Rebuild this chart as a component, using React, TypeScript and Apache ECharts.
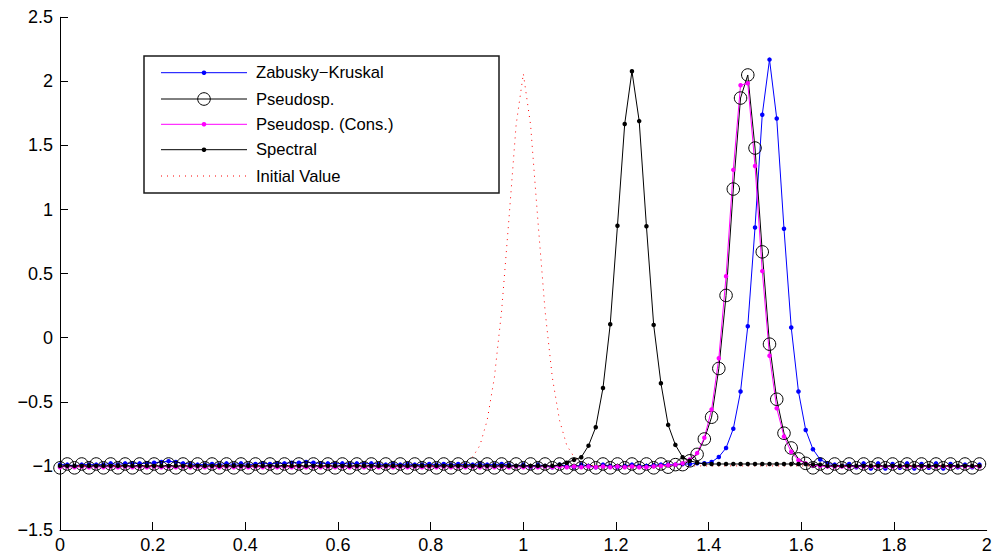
import React, { useEffect, useRef } from "react";
import * as echarts from "echarts";

// grid spacing of the 128 sample points (x = 0 .. 127/64)
const STEP = 1 / 64;

const zabuskyKruskal = [
  -0.99, -0.99, -1.0, -0.99, -0.99, -0.99, -0.99, -0.98, -0.99, -0.98, -0.98, -0.98, -0.98, -0.975, -0.97, -0.963,
  -0.97, -0.98, -0.985, -0.99, -0.99, -0.985, -0.99, -0.98, -0.99, -0.98, -0.99, -0.985, -0.98, -0.985, -0.98, -0.98,
  -0.975, -0.975, -0.97, -0.975, -0.98, -0.98, -0.985, -0.98, -0.985, -0.98, -0.985, -0.98, -0.985, -0.99, -0.985, -0.99,
  -0.985, -0.99, -0.99, -0.985, -0.99, -0.985, -0.99, -0.985, -0.99, -0.99, -0.985, -0.99, -0.99, -0.985, -0.99, -1.0,
  -0.99, -1.01, -0.99, -1.0, -1.01, -0.99, -1.0, -1.01, -0.99, -1.0, -1.01, -0.99, -1.0, -1.01, -1.0, -0.99,
  -1.0, -1.0, -0.995, -0.99, -0.99, -0.99, -0.985, -0.985, -0.98, -0.979, -0.97, -0.93, -0.86, -0.71, -0.42, 0.09,
  0.86, 1.74, 2.17, 1.71, 0.85, 0.08, -0.42, -0.72, -0.87, -0.95, -0.98, -0.99, -1.0, -0.985, -1.01, -0.98,
  -1.02, -0.98, -1.02, -0.985, -1.015, -0.98, -1.02, -0.985, -1.015, -0.98, -1.02, -0.985, -1.01, -0.99, -1.01, -0.99,
];

const pseudospectral = [
  -1.015, -0.985, -1.015, -0.985, -1.015, -0.985, -1.015, -0.985, -1.015, -0.985, -1.015, -0.985, -1.015, -0.985, -1.015, -0.985,
  -1.015, -0.985, -1.015, -0.985, -1.015, -0.985, -1.015, -0.985, -1.015, -0.985, -1.015, -0.985, -1.015, -0.985, -1.015, -0.985,
  -1.015, -0.985, -1.015, -0.985, -1.015, -0.985, -1.015, -0.985, -1.015, -0.985, -1.015, -0.985, -1.015, -0.985, -1.015, -0.985,
  -1.015, -0.985, -1.015, -0.985, -1.015, -0.985, -1.015, -0.985, -1.015, -0.985, -1.015, -0.985, -1.015, -0.985, -1.015, -0.985,
  -1.015, -0.985, -1.015, -0.985, -1.015, -0.985, -1.015, -0.985, -1.015, -0.985, -1.015, -0.985, -1.015, -0.985, -1.015, -0.985,
  -1.015, -0.985, -1.015, -0.985, -1.01, -0.99, -0.99, -0.96, -0.91, -0.79, -0.62, -0.24, 0.33, 1.16, 1.87, 2.05,
  1.48, 0.67, -0.05, -0.48, -0.745, -0.86, -0.945, -0.98, -1.015, -0.985, -1.015, -0.985, -1.015, -0.985, -1.015, -0.985,
  -1.015, -0.985, -1.015, -0.985, -1.015, -0.985, -1.015, -0.985, -1.015, -0.985, -1.015, -0.985, -1.015, -0.985, -1.015, -0.985,
];

const pseudospCons = [
  -1.01, -1.005, -1.01, -1.005, -1.01, -1.005, -1.01, -1.005, -1.01, -1.005, -1.01, -1.005, -1.01, -1.005, -1.01, -1.005,
  -1.01, -1.005, -1.01, -1.005, -1.01, -1.005, -1.01, -1.005, -1.01, -1.005, -1.01, -1.005, -1.01, -1.005, -1.01, -1.005,
  -1.01, -1.005, -1.01, -1.005, -1.01, -1.005, -1.01, -1.005, -1.01, -1.005, -1.01, -1.005, -1.01, -1.005, -1.01, -1.005,
  -1.01, -1.005, -1.01, -1.005, -1.01, -1.005, -1.01, -1.005, -1.01, -1.005, -1.01, -1.005, -1.01, -1.005, -1.01, -1.005,
  -1.01, -1.005, -1.01, -1.005, -1.01, -1.005, -1.01, -1.005, -1.01, -1.005, -1.01, -1.005, -1.01, -1.005, -1.01, -1.005,
  -1.01, -1.01, -1.005, -1.0, -0.995, -0.99, -0.98, -0.95, -0.9, -0.78, -0.56, -0.16, 0.48, 1.31, 1.97, 1.985,
  1.34, 0.52, -0.14, -0.55, -0.77, -0.89, -0.955, -0.98, -0.995, -1.0, -1.005, -1.005, -1.005, -1.005, -1.005, -1.005,
  -1.005, -1.005, -1.005, -1.005, -1.005, -1.005, -1.005, -1.005, -1.005, -1.005, -1.005, -1.005, -1.005, -1.005, -1.005, -1.005,
];

const spectral = [
  -1.0, -1.0, -1.0, -1.0, -1.0, -1.0, -1.0, -1.0, -1.0, -1.0, -1.0, -1.0, -1.0, -1.0, -1.0, -1.0,
  -1.0, -1.0, -1.0, -1.0, -1.0, -1.0, -1.0, -1.0, -1.0, -1.0, -1.0, -1.0, -1.0, -1.0, -1.0, -1.0,
  -1.0, -1.0, -1.0, -1.0, -1.0, -1.0, -1.0, -1.0, -1.0, -1.0, -1.0, -1.0, -1.0, -1.0, -1.0, -1.0,
  -1.0, -1.0, -1.0, -1.0, -1.0, -1.0, -1.0, -1.0, -1.0, -1.0, -1.0, -1.0, -1.0, -1.0, -1.0, -1.0,
  -1.0, -1.0, -1.0, -1.0, -1.0, -0.99, -0.975, -0.953, -0.932, -0.842, -0.698, -0.392, 0.105, 0.874, 1.668, 2.079,
  1.69, 0.87, 0.1, -0.355, -0.68, -0.836, -0.932, -0.96, -0.975, -0.985, -0.985, -0.985, -0.985, -0.985, -0.985, -0.985,
  -0.985, -0.985, -0.985, -0.985, -0.985, -0.985, -0.985, -0.985, -0.99, -0.99, -1.0, -1.0, -1.0, -1.0, -1.0, -1.0,
  -1.0, -1.0, -1.0, -1.0, -1.0, -1.0, -1.0, -1.0, -1.0, -1.0, -1.0, -1.0, -1.0, -1.0, -1.0, -1.0,
];

const initialValue = [
  -1.0, -1.0, -1.0, -1.0, -1.0, -1.0, -1.0, -1.0, -1.0, -1.0, -1.0, -1.0, -1.0, -1.0, -1.0, -1.0,
  -1.0, -1.0, -1.0, -1.0, -1.0, -1.0, -1.0, -1.0, -1.0, -1.0, -1.0, -1.0, -1.0, -1.0, -1.0, -1.0,
  -1.0, -1.0, -1.0, -1.0, -1.0, -1.0, -1.0, -1.0, -1.0, -1.0, -1.0, -1.0, -1.0, -1.0, -1.0, -1.0,
  -1.0, -1.0, -1.0, -1.0, -1.0, -1.0, -1.0, -0.99, -0.97, -0.93, -0.84, -0.645, -0.31, 0.21, 0.92, 1.66,
  2.06, 1.66, 0.92, 0.21, -0.31, -0.645, -0.84, -0.93, -0.97, -0.99, -1.0, -1.0, -1.0, -1.0, -1.0, -1.0,
  -1.0, -1.0, -1.0, -1.0, -1.0, -1.0, -1.0, -1.0, -1.0, -1.0, -1.0, -1.0, -1.0, -1.0, -1.0, -1.0,
  -1.0, -1.0, -1.0, -1.0, -1.0, -1.0, -1.0, -1.0, -1.0, -1.0, -1.0, -1.0, -1.0, -1.0, -1.0, -1.0,
  -1.0, -1.0, -1.0, -1.0, -1.0, -1.0, -1.0, -1.0, -1.0, -1.0, -1.0, -1.0, -1.0, -1.0, -1.0, -1.0,
];

const seriesNames = ["Zabusky\u2212Kruskal", "Pseudosp.", "Pseudosp. (Cons.)", "Spectral", "Initial Value"];
const seriesColors = ["#0000ff", "#000000", "#ff00ff", "#000000", "#ff0000"];

const X_MIN = 0;
const X_MAX = 2;
const X_INTERVAL = 0.2;
const Y_MIN = -1.5;
const Y_MAX = 2.5;
const Y_INTERVAL = 0.5;

const FONT = "'Liberation Sans', Arial, Helvetica, sans-serif";
const TICK_FONT_SIZE = 18;
const LEGEND_FONT_SIZE = 16.6;
const X_LABEL_MARGIN = 6;

const xLabel = (v: number) => String(Math.round(v * 10) / 10);
const toPairs = (ys: number[]) => ys.map((y, i) => [i * STEP, y]);

export default function App() {
  const ref = useRef<HTMLDivElement>(null);

  useEffect(() => {
    document.body.style.margin = "0";
    if (!ref.current) return;
    const chart = echarts.init(ref.current, null, { renderer: "svg" });

    const dotSeries = (name: string, color: string, data: number[]) => ({
      name,
      type: "line",
      data: toPairs(data),
      symbol: "circle",
      symbolSize: 4.5,
      showAllSymbol: true,
      clip: false,
      silent: true,
      itemStyle: { color },
      lineStyle: { color, width: 1 },
      emphasis: { disabled: true },
    });

    // legend drawn with graphics
    const lx = 144, ly = 56, lw = 355, lh = 137;
    const rowY = [72.7, 99, 124.3, 149.7, 176];
    const lineX0 = 161, lineX1 = 247, markX = 204, textX = 256;
    const legendChildren: any[] = [
      {
        type: "rect",
        shape: { x: lx, y: ly, width: lw, height: lh },
        style: { fill: "#fff", stroke: "#1a1a1a", lineWidth: 1.5 },
      },
    ];
    seriesNames.forEach((name, k) => {
      const y = rowY[k];
      const color = seriesColors[k];
      legendChildren.push({
        type: "line",
        shape: { x1: lineX0, y1: y, x2: lineX1, y2: y },
        style: k === 4
          ? { stroke: color, lineWidth: 1, lineDash: [1, 5] }
          : { stroke: color, lineWidth: 1 },
      });
      if (k === 1) {
        legendChildren.push({
          type: "circle",
          shape: { cx: markX, cy: y, r: 6.3 },
          style: { fill: "none", stroke: "#000", lineWidth: 1 },
        });
      } else if (k !== 4) {
        legendChildren.push({
          type: "circle",
          shape: { cx: markX, cy: y, r: 2.3 },
          style: { fill: color },
        });
      }
      legendChildren.push({
        type: "text",
        x: textX,
        y,
        style: {
          text: name,
          fill: "#000",
          font: `${LEGEND_FONT_SIZE}px ${FONT}`,
          textVerticalAlign: "middle",
          verticalAlign: "middle",
        },
      });
    });

    const option: any = {
      animation: false,
      backgroundColor: "#fff",
      grid: {
        left: 60,
        right: 5.3,
        top: 17.3,
        bottom: 30,
        containLabel: false,
        outerBoundsMode: "none",
      },
      xAxis: {
        type: "value",
        min: X_MIN,
        max: X_MAX,
        interval: X_INTERVAL,
        axisLine: { show: true, onZero: false, lineStyle: { color: "#000", width: 1 } },
        axisTick: { show: true, inside: true, length: 8, lineStyle: { color: "#000", width: 1 } },
        axisLabel: {
          color: "#000",
          fontFamily: FONT,
          fontSize: TICK_FONT_SIZE,
          margin: X_LABEL_MARGIN,
          hideOverlap: false,
          showMaxLabel: false,
          formatter: xLabel,
        },
        splitLine: { show: false },
      },
      yAxis: {
        type: "value",
        min: Y_MIN,
        max: Y_MAX,
        interval: Y_INTERVAL,
        axisLine: { show: true, onZero: false, lineStyle: { color: "#000", width: 1 } },
        axisTick: { show: true, inside: true, length: 8, lineStyle: { color: "#000", width: 1 } },
        axisLabel: {
          color: "#000",
          fontFamily: FONT,
          fontSize: TICK_FONT_SIZE,
          margin: 7,
          formatter: (v: number) => String(v).replace("-", "\u2212"),
        },
        splitLine: { show: false },
      },
      series: [
        dotSeries(seriesNames[0], seriesColors[0], zabuskyKruskal),
        {
          name: seriesNames[1],
          type: "line",
          data: toPairs(pseudospectral),
          symbol: "circle",
          symbolSize: 12.5,
          showAllSymbol: true,
          clip: false,
          silent: true,
          itemStyle: { color: "rgba(0,0,0,0)", borderColor: "#000", borderWidth: 1 },
          lineStyle: { color: "#000", width: 1 },
          emphasis: { disabled: true },
        },
        dotSeries(seriesNames[2], seriesColors[2], pseudospCons),
        dotSeries(seriesNames[3], seriesColors[3], spectral),
        {
          name: seriesNames[4],
          type: "line",
          data: toPairs(initialValue),
          symbol: "none",
          clip: false,
          silent: true,
          lineStyle: { color: seriesColors[4], width: 1, type: [1, 5] },
          emphasis: { disabled: true },
        },
      ],
      graphic: [{ id: "legend", type: "group", children: legendChildren }],
    };

    chart.setOption(option);

    // last x tick label, placed at the axis' own pixel for X_MAX
    const pt = chart.convertToPixel({ gridIndex: 0 }, [X_MAX, Y_MIN]) as number[];
    chart.setOption({
      graphic: [
        { id: "legend", type: "group", children: legendChildren },
        {
          id: "xMaxLabel",
          type: "text",
          x: pt[0],
          y: pt[1] + X_LABEL_MARGIN,
          silent: true,
          style: {
            text: xLabel(X_MAX),
            fill: "#000",
            font: `${TICK_FONT_SIZE}px ${FONT}`,
            align: "center",
            verticalAlign: "top",
          },
        },
      ],
    });

    return () => chart.dispose();
  }, []);

  return <div ref={ref} style={{ width: 992, height: 560 }} />;
}
